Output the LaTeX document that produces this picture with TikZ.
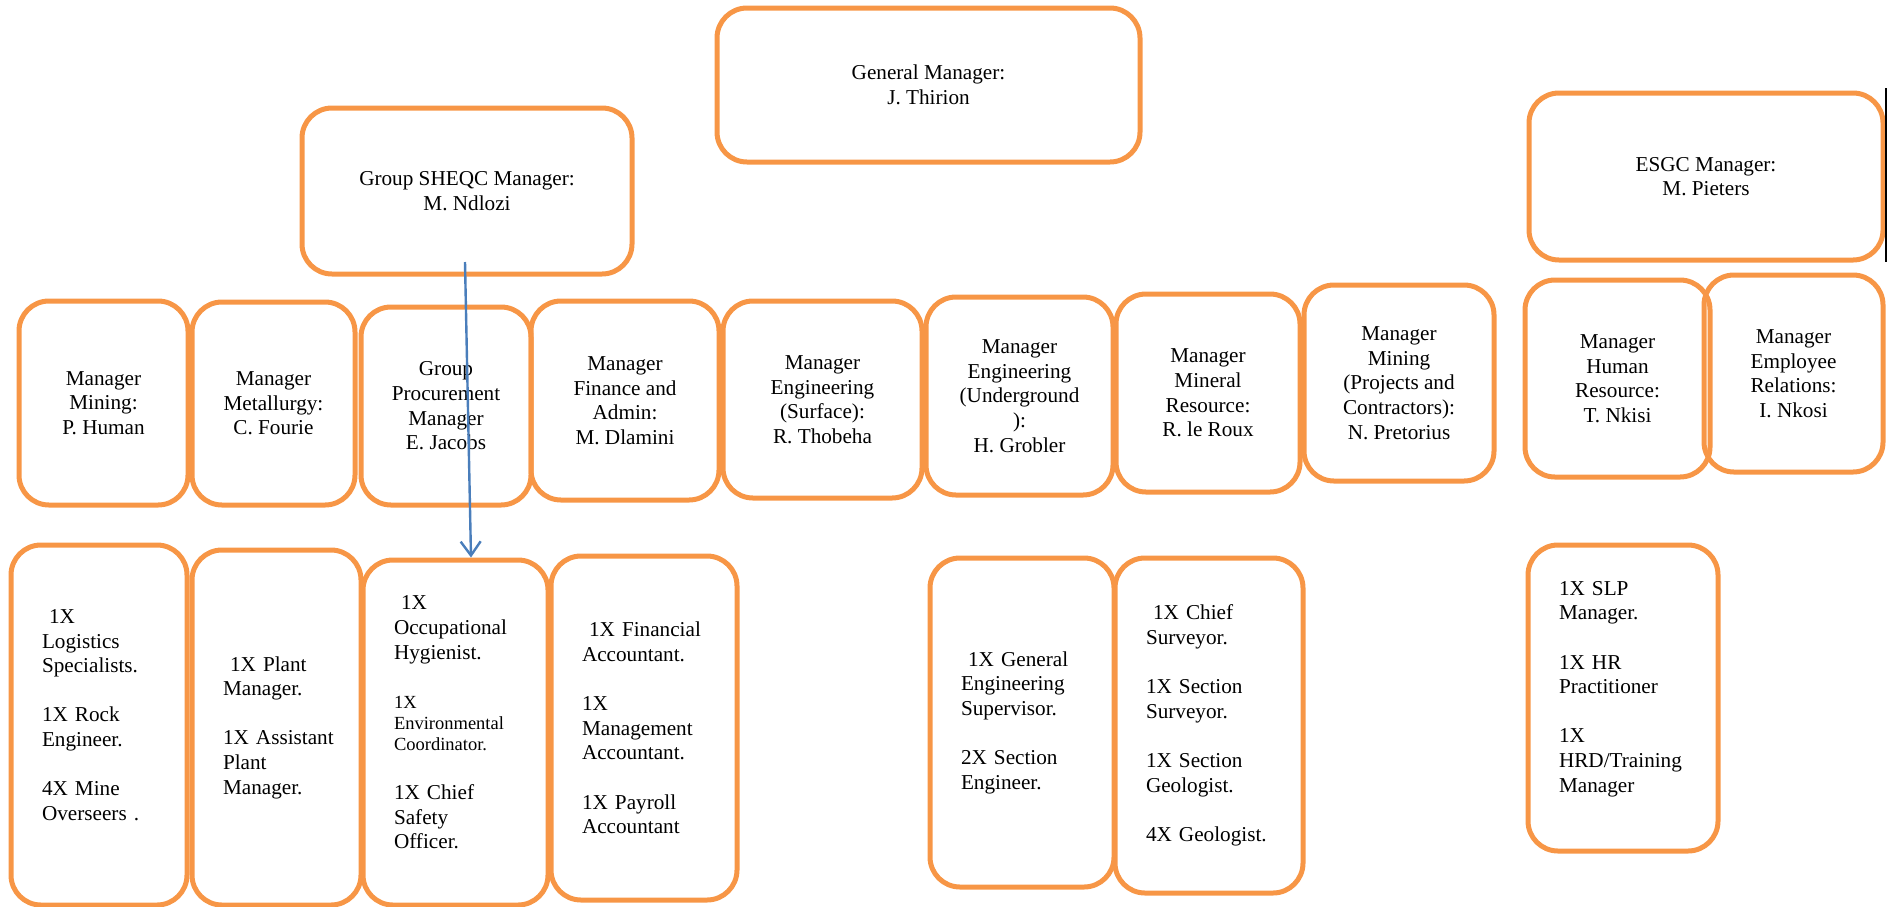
\documentclass[tikz,border=0pt]{standalone}
\usepackage{fontspec}
\setmainfont{Liberation Serif}
\usepackage{tikz}
\usetikzlibrary{arrows.meta}
\definecolor{boxorange}{HTML}{F79646}
\definecolor{linkblue}{HTML}{4A7EBB}
\newcommand{\smalltxt}{\fontsize{9.25}{10.5}\selectfont}

\begin{document}
\begin{tikzpicture}[x=0.5pt, y=-0.5pt]
    \tikzstyle{main}=[rectangle, rounded corners=15pt, draw=boxorange, line width=2.5pt, inner sep=0pt, font=\fontsize{10.6}{12.3}\selectfont]
    \tikzstyle{head}=[main, align=center]
    \tikzstyle{staff}=[main, align=left]
    \tikzstyle{connect}=[-{Straight Barb[length=7pt,width=10pt]}, draw=linkblue, line width=1.2pt]
    \useasboundingbox (0,0) rectangle (1888,906);

      % top level
      \node[head, minimum width=211.5pt, minimum height=77pt] (gm) at (928.5,85) {General Manager:\\ J. Thirion};
      \node[head, minimum width=165pt, minimum height=83pt] (sheqc) at (467,191) {Group SHEQC Manager:\\ M. Ndlozi};
      \node[head, minimum width=177pt, minimum height=83.5pt] (esgc) at (1706,176.5) {ESGC Manager:\\ M. Pieters};

      % managers
      \node[head, minimum width=84.5pt, minimum height=102pt] (mining) at (103.5,403) {Manager\\ Mining:\\ P. Human};
      \node[head, minimum width=81.5pt, minimum height=101.5pt] (metal) at (273.5,403.5) {Manager\\ Metallurgy:\\ C. Fourie};
      \node[head, minimum width=85pt, minimum height=99pt] (procure) at (446,406) {Group\\ Procurement\\ Manager\\ E. Jacobs};
      \node[head, minimum width=94pt, minimum height=99.5pt] (finance) at (625,400.5) {Manager\\ Finance and\\ Admin:\\ M. Dlamini};
      \node[head, minimum width=99.5pt, minimum height=98.5pt] (engsurf) at (822.5,399.5) {Manager\\ Engineering\\ (Surface):\\ R. Thobeha};
      \node[head, minimum width=93.5pt, minimum height=99pt] (engug) at (1019.5,396) {Manager\\ Engineering\\ (Underground\\ ):\\ H. Grobler};
      \node[head, minimum width=92pt, minimum height=99pt] (mineral) at (1208,393) {Manager\\ Mineral\\ Resource:\\ R. le Roux};
      \node[head, minimum width=95pt, minimum height=98pt] (projects) at (1399,383) {Manager\\ Mining\\ (Projects and\\ Contractors):\\ N. Pretorius};
      \node[head, minimum width=92.5pt, minimum height=98.5pt] (hres) at (1617.5,378.5) {Manager\\ Human\\ Resource:\\ T. Nkisi};
      \node[head, minimum width=89.5pt, minimum height=98.5pt] (emprel) at (1793.5,373.5) {Manager\\ Employee\\ Relations:\\ I. Nkosi};

      % staff
      \node[staff, minimum width=88pt, minimum height=180pt, text width=57pt] (logist) at (99,725)
        {~1X\\ Logistics\\ Specialists.\\[12.3pt] 1X Rock\\ Engineer.\\[12.3pt] 4X Mine\\ Overseers~.\par\kern10pt};
      \node[staff, minimum width=84.5pt, minimum height=177.5pt, text width=53.5pt] (plant) at (276.5,727.5)
        {~1X Plant\\ Manager.\\[12.3pt] \mbox{1X Assistant}\\ Plant\\ Manager.};
      \node[staff, minimum width=92.5pt, minimum height=172.5pt, text width=61.5pt] (occup) at (455.5,732.5)
        {~1X\\ Occupational\\ Hygienist.\\[12.3pt] {\smalltxt 1X}\\[-1.8pt] {\smalltxt Environmental}\\[-1.8pt] {\smalltxt Coordinator.}\\[12.3pt] 1X Chief\\ Safety\\ Officer.\par\kern10pt};
      \node[staff, minimum width=93pt, minimum height=172pt, text width=62pt] (acct) at (644,728)
        {~1X Financial\\ Accountant.\\[12.3pt] 1X\\ Management\\ Accountant.\\[12.3pt] 1X Payroll\\ Accountant};
      \node[staff, minimum width=92pt, minimum height=164.5pt, text width=61pt] (geneng) at (1022,722.5)
        {~1X General\\ Engineering\\ Supervisor.\\[12.3pt] 2X Section\\ Engineer.};
      \node[staff, minimum width=94pt, minimum height=167.5pt, text width=63pt] (survey) at (1209,725.5)
        {~1X Chief\\ Surveyor.\\[12.3pt] 1X Section\\ Surveyor.\\[12.3pt] 1X Section\\ Geologist.\\[12.3pt] 4X Geologist.};
      \node[staff, minimum width=95pt, minimum height=153pt, text width=64pt] (slp) at (1623,698)
        {1X SLP\\ Manager.\\[12.3pt] 1X HR\\ Practitioner\\[12.3pt] 1X\\ HRD/Training\\ Manager\par\kern9pt};

      \path ([xshift=-1pt,yshift=7.25pt]sheqc.south) edge [connect] ([xshift=7.75pt]occup.north);
      \draw[line width=1pt] (1886,88) -- (1886,262);
\end{tikzpicture}
\end{document}
